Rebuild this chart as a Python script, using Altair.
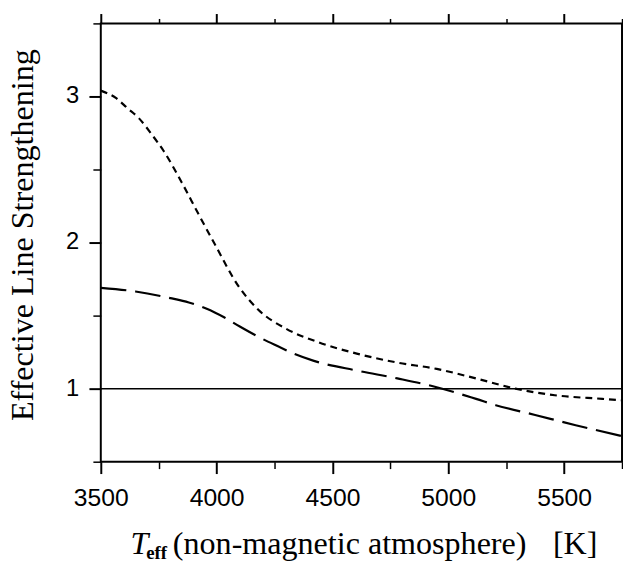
import altair as alt
import pandas as pd

# ---- data ----
dotted_T = [3500, 3565, 3615, 3665, 3720, 3770, 3850, 3920, 3990, 4095, 4180,
            4300, 4435, 4605, 4775, 4950, 5120, 5290, 5460, 5665, 5750]
dotted_v = [3.04, 2.99, 2.92, 2.85, 2.74, 2.63, 2.41, 2.20, 1.995, 1.70, 1.54,
            1.41, 1.32, 1.24, 1.18, 1.135, 1.07, 1.0, 0.955, 0.93, 0.92]
dashed_T = [3500, 3650, 3800, 3880, 3960, 4030, 4100, 4180, 4265, 4340, 4420, 4605,
            4780, 4950, 5120, 5205, 5375, 5550, 5750]
dashed_v = [1.69, 1.665, 1.62, 1.59, 1.545, 1.49, 1.425, 1.355, 1.29, 1.235, 1.19, 1.124,
            1.07, 1.01, 0.93, 0.887, 0.82, 0.75, 0.675]
ref_level = [1.0]

x_major = [3500, 4000, 4500, 5000, 5500]
x_minor = [3750, 4250, 4750, 5250, 5750]
y_major = [1, 2, 3]
y_labels = ["1", "2", "3"]
y_minor = [0.5, 1.5, 2.5, 3.5]
x_domain = [3500, 5750]
y_domain = [0.5, 3.5]

y_title = "Effective Line Strengthening"
x_title_parts = ["T", "eff", "(non-magnetic atmosphere)", "[K]"]

dotted = pd.DataFrame({"T": dotted_T, "v": dotted_v})
dashed = pd.DataFrame({"T": dashed_T, "v": dashed_v})
ref = pd.DataFrame({"v": ref_level})
ylab = pd.DataFrame({"v": y_major, "s": y_labels})

xs = alt.Scale(domain=x_domain, nice=False, zero=False)
ys = alt.Scale(domain=y_domain, nice=False, zero=False)

SANS = "Liberation Sans"
SERIF = "Liberation Serif"


def xaxis(orient, values, size, width, labels):
    return alt.Axis(orient=orient, values=values, tickSize=size, tickWidth=width,
                    tickColor="black", labels=labels, domain=False, grid=False,
                    title=None, labelFont=SANS, labelFontSize=25, labelColor="black",
                    labelPadding=12, labelFlush=False, format="d")


y_major_axis = alt.Axis(orient="left", values=y_major, tickSize=12, tickWidth=2,
                        tickColor="black", domain=False, grid=False, labels=False,
                        title=y_title, titleFont=SERIF, titleFontSize=32.5,
                        titleFontWeight="normal", titleColor="black", titleAngle=-90,
                        titleX=-69, titleY=214, titleAlign="center",
                        titleBaseline="alphabetic")
y_minor_axis = alt.Axis(orient="left", values=y_minor, tickSize=8, tickWidth=1.5,
                        tickColor="black", domain=False, grid=False, labels=False,
                        title=None)

dotted_layer = alt.Chart(dotted).mark_line(
    color="black", strokeWidth=2.2, strokeDash=[7, 5], interpolate="monotone"
).encode(
    x=alt.X("T:Q", scale=xs, axis=xaxis("bottom", x_major, 12, 2, True)),
    y=alt.Y("v:Q", scale=ys, axis=y_major_axis),
)

dashed_layer = alt.Chart(dashed).mark_line(
    color="black", strokeWidth=2.2, strokeDash=[26, 9], interpolate="monotone"
).encode(
    x=alt.X("T:Q", scale=xs, axis=None),
    y=alt.Y("v:Q", scale=ys, axis=None),
)

ref_layer = alt.Chart(ref).mark_rule(color="black", strokeWidth=1.5).encode(
    y=alt.Y("v:Q", scale=ys, axis=None),
)

ylabel_layer = alt.Chart(ylab).mark_text(
    font=SANS, fontSize=24, align="right", baseline="middle", color="black"
).encode(
    x=alt.value(-22),
    y=alt.Y("v:Q", scale=ys, axis=None),
    text="s:N",
)


def tick_layer(xax, yax=None):
    return alt.Chart(dotted).mark_point(opacity=0).encode(
        x=alt.X("T:Q", scale=xs, axis=xax),
        y=alt.Y("v:Q", scale=ys, axis=yax),
    )


bottom_minor = tick_layer(xaxis("bottom", x_minor, 7, 1.5, False), y_minor_axis)
top_major = tick_layer(xaxis("top", x_major, 10, 2, False))
top_minor = tick_layer(xaxis("top", x_minor, 5, 1.5, False))


def title_text(s, x, y, size, style="normal", weight="normal"):
    return alt.Chart(pd.DataFrame({"s": [s]})).mark_text(
        font=SERIF, fontSize=size, fontStyle=style, fontWeight=weight,
        align="left", baseline="alphabetic", color="black"
    ).encode(x=alt.value(x), y=alt.value(y), text="s:N")


t1 = title_text(x_title_parts[0], 30, 537, 32.5, style="italic")
t2 = title_text(x_title_parts[1], 46, 543, 19, weight="bold")
t3 = title_text(x_title_parts[2], 73, 537, 32.5)
t4 = title_text(x_title_parts[3], 458, 537, 32.5)

chart = alt.layer(
    dotted_layer, dashed_layer, ref_layer, ylabel_layer, bottom_minor, top_major,
    top_minor, t1, t2, t3, t4
).resolve_axis(
    x="independent", y="independent"
).properties(
    width=528, height=444,
    autosize=alt.AutoSizeParams(type="none"),
    padding={"left": 94, "top": 12, "right": 1, "bottom": 99},
    background="white",
).configure_view(stroke="black", strokeWidth=2)

chart.save("out.html", embed_options={"renderer": "svg", "actions": False})
